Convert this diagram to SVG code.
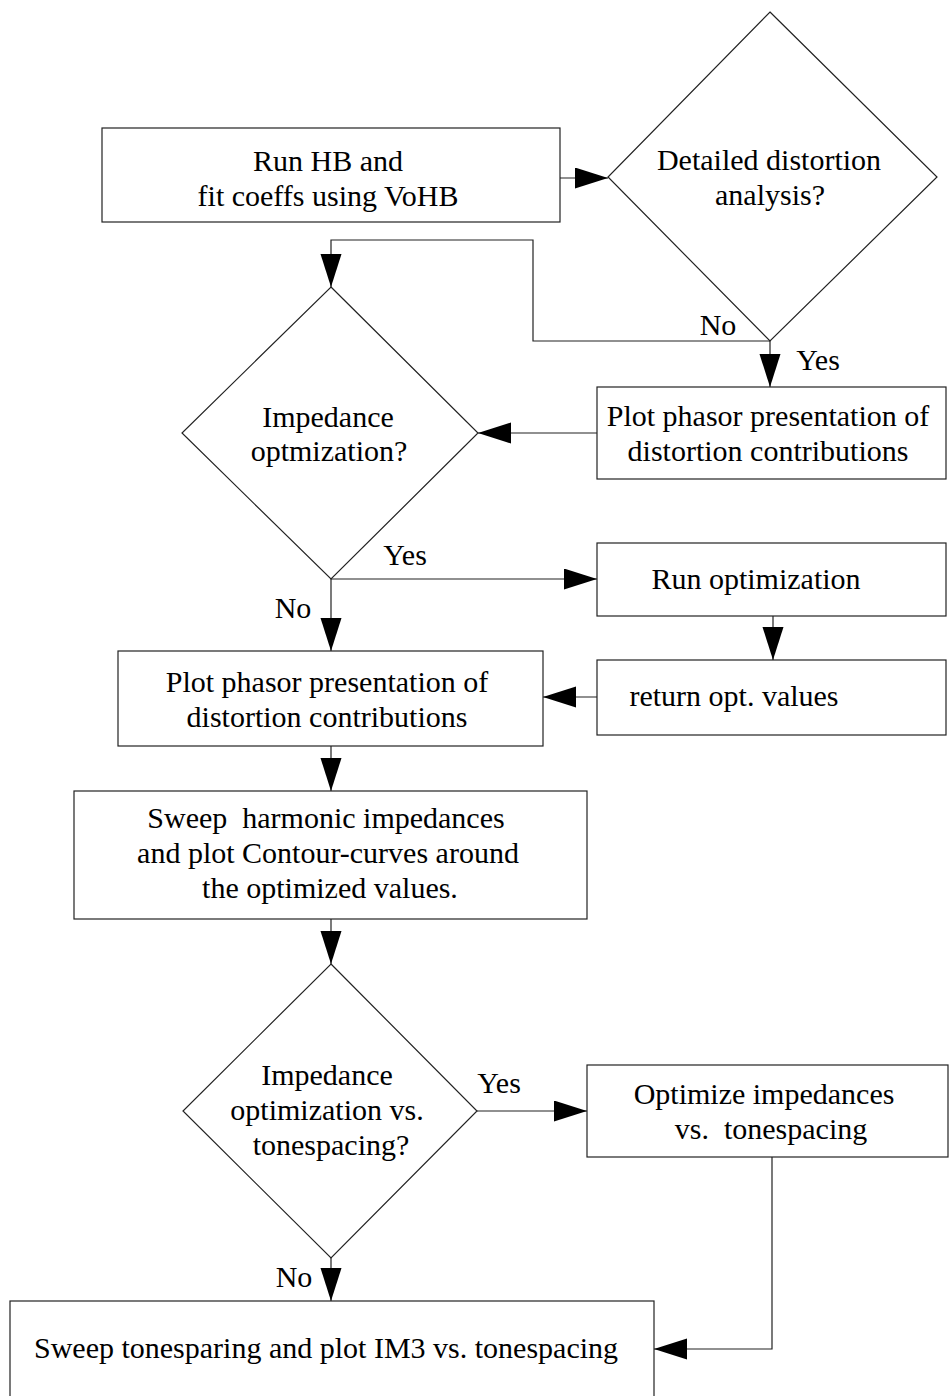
<svg xmlns="http://www.w3.org/2000/svg" width="949" height="1396" viewBox="0 0 949 1396">
<style>
  .box { fill: #fff; stroke: #222; stroke-width: 1.2; }
  .t { font-family: "Liberation Serif", "Times New Roman", serif; font-size: 30px; fill: #000; text-anchor: middle; white-space: pre; }
  .c { fill: none; stroke: #222; stroke-width: 1.2; }
</style>
<defs>
  <marker id="ah" markerUnits="userSpaceOnUse" markerWidth="34" markerHeight="22" refX="33" refY="10.5" orient="auto">
    <path d="M0,0 L33,10.5 L0,21 Z" fill="#000"/>
  </marker>
</defs>
<rect width="949" height="1396" fill="#fff"/>

<g id="connectors">
  <path class="c" d="M560,178 L608,178" marker-end="url(#ah)"/>
  <path class="c" d="M770,341 L533,341 L533,240 L331,240 L331,287" marker-end="url(#ah)"/>
  <path class="c" d="M770,341 L770,387" marker-end="url(#ah)"/>
  <path class="c" d="M597,433 L478,433" marker-end="url(#ah)"/>
  <path class="c" d="M331,579 L597,579" marker-end="url(#ah)"/>
  <path class="c" d="M331,579 L331,651" marker-end="url(#ah)"/>
  <path class="c" d="M773,616 L773,660" marker-end="url(#ah)"/>
  <path class="c" d="M597,697 L543,697" marker-end="url(#ah)"/>
  <path class="c" d="M331,746 L331,791" marker-end="url(#ah)"/>
  <path class="c" d="M331,919 L331,964" marker-end="url(#ah)"/>
  <path class="c" d="M477,1111 L587,1111" marker-end="url(#ah)"/>
  <path class="c" d="M331,1258 L331,1301" marker-end="url(#ah)"/>
  <path class="c" d="M772,1157 L772,1349 L654,1349" marker-end="url(#ah)"/>
  <text class="t" x="718" y="335">No</text>
  <text class="t" x="818" y="370">Yes</text>
  <text class="t" x="405" y="565">Yes</text>
  <text class="t" x="293" y="618">No</text>
  <text class="t" x="499" y="1093">Yes</text>
  <text class="t" x="294" y="1287">No</text>
</g>

<g id="n1">
  <rect class="box" x="102" y="128" width="458" height="94"/>
  <text class="t" x="328" y="171">Run HB and</text>
  <text class="t" x="328" y="206">fit coeffs using VoHB</text>
</g>
<g id="n2">
  <polygon class="box" points="770,12 937,177 770,341 608,177"/>
  <text class="t" x="769" y="170">Detailed distortion</text>
  <text class="t" x="770" y="205">analysis?</text>
</g>
<g id="n3">
  <rect class="box" x="597" y="387" width="349" height="92"/>
  <text class="t" x="768" y="426">Plot phasor presentation of</text>
  <text class="t" x="768" y="461">distortion contributions</text>
</g>
<g id="n4">
  <polygon class="box" points="331,287 478,433 331,579 182,433"/>
  <text class="t" x="328" y="427">Impedance</text>
  <text class="t" x="329" y="461">optmization?</text>
</g>
<g id="n5">
  <rect class="box" x="597" y="543" width="349" height="73"/>
  <text class="t" x="756" y="589">Run optimization</text>
</g>
<g id="n6">
  <rect class="box" x="597" y="660" width="349" height="75"/>
  <text class="t" x="734" y="706">return opt. values</text>
</g>
<g id="n7">
  <rect class="box" x="118" y="651" width="425" height="95"/>
  <text class="t" x="327" y="692">Plot phasor presentation of</text>
  <text class="t" x="327" y="727">distortion contributions</text>
</g>
<g id="n8">
  <rect class="box" x="74" y="791" width="513" height="128"/>
  <text class="t" x="326" y="828">Sweep  harmonic impedances</text>
  <text class="t" x="328" y="863">and plot Contour-curves around</text>
  <text class="t" x="330" y="898">the optimized values.</text>
</g>
<g id="n9">
  <polygon class="box" points="331,964 477,1111 331,1258 183,1111"/>
  <text class="t" x="327" y="1085">Impedance</text>
  <text class="t" x="327" y="1120">optimization vs.</text>
  <text class="t" x="331" y="1155">tonespacing?</text>
</g>
<g id="n10">
  <rect class="box" x="587" y="1065" width="361" height="92"/>
  <text class="t" x="764" y="1104">Optimize impedances</text>
  <text class="t" x="771" y="1139">vs.  tonespacing</text>
</g>
<g id="n11">
  <rect class="box" x="10" y="1301" width="644" height="110"/>
  <text class="t" x="326" y="1358">Sweep tonesparing and plot IM3 vs. tonespacing</text>
</g>
</svg>
